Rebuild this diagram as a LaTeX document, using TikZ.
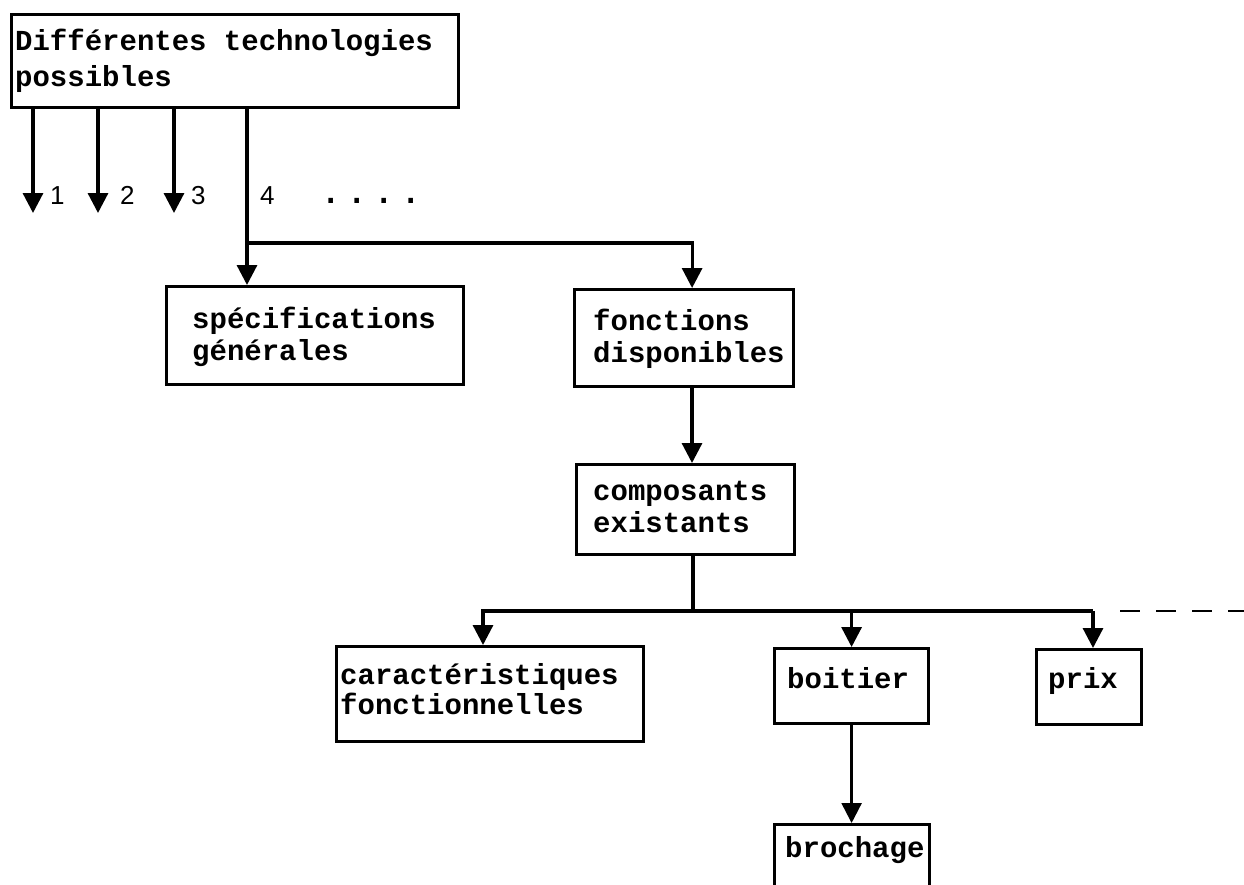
\documentclass[tikz,border=0pt]{standalone}
\usepackage{fontspec}
\setmonofont{Liberation Mono}
\newfontfamily\digitfont{Liberation Sans}
\usetikzlibrary{arrows.meta}
\begin{document}
\begin{tikzpicture}[x=1pt,y=-1pt,
  box/.style 2 args={draw, line width=3.2pt, inner sep=0pt, anchor=north west,
    minimum width=#1, minimum height=#2},
  lbl/.style={anchor=base west, inner sep=0pt, align=left, text width=440pt,
    font=\ttfamily\bfseries\fontsize{29}{#1}\selectfont,
    execute at begin node={\spaceskip=17.4pt\relax}},
  lbl/.default=32,
  num/.style={anchor=base west, inner sep=0pt, font=\digitfont\fontsize{26}{26}\selectfont},
  link/.style={line width=3.2pt},
  arr/.style={link, -{Triangle[length=20pt,width=20pt]}},
]
\useasboundingbox (0,0) rectangle (1244,884);
\clip (0,0) rectangle (1244,884);

% boxes
\node[box={447pt}{93pt}] (techno) at (10,13) {};
\node[lbl=36] (techno-t) at (15,50) {Différentes technologies\\possibles};

\node[box={297pt}{98pt}] (spec) at (165,285) {};
\node[lbl] (spec-t) at (192,328) {spécifications\\générales};

\node[box={219pt}{97pt}] (fonct) at (573,288) {};
\node[lbl] (fonct-t) at (593,330) {fonctions\\disponibles};

\node[box={218pt}{90pt}] (compo) at (575,463) {};
\node[lbl] (compo-t) at (593,500) {composants\\existants};

\node[box={307pt}{95pt}] (carac) at (335,645) {};
\node[lbl=30] (carac-t) at (340,684) {caractéristiques\\fonctionnelles};

\node[box={154pt}{75pt}] (boit) at (773,647) {};
\node[lbl] (boit-t) at (787,688) {boitier};

\node[box={105pt}{75pt}] (prix) at (1035,648) {};
\node[lbl] (prix-t) at (1048,688) {prix};

\node[box={155pt}{100pt}] (broch) at (773,823) {};
\node[lbl] (broch-t) at (785,857) {brochage};

% numbered alternatives below the top box
\coordinate (e1) at (33,213);
\coordinate (e2) at (98,213);
\coordinate (e3) at (174,213);
\draw[arr] (e1 |- techno.south) -- (e1);
\draw[arr] (e2 |- techno.south) -- (e2);
\draw[arr] (e3 |- techno.south) -- (e3);
\node[num] (n1) at (50,204) {1};
\node[num] (n2) at (120,204) {2};
\node[num] (n3) at (191,204) {3};
\node[num] (n4) at (260,204) {4};
\node[anchor=base west, inner sep=0pt,
  font=\digitfont\fontsize{48}{48}\selectfont\frenchspacing] (dots) at (324,203) {. . . .};

% branch 4
\coordinate (j1) at (247,243);
\draw[arr] (j1 |- techno.south) -- (j1 |- spec.north);
\draw[arr] (j1) -| ([xshift=8pt]fonct.north);

% fonctions -> composants
\coordinate (c1) at (692,0);
\draw[arr] (c1 |- fonct.south) -- (c1 |- compo.north);

% composants -> its attributes
\coordinate (j2) at (693,611);
\coordinate (bL) at (483,611);
\coordinate (bR) at (1093,611);
\draw[link] (j2 |- compo.south) -- (j2);
\draw[arr] (bR) -- (bL) -- (bL |- carac.north);
\draw[arr] (boit.north |- j2) -- (boit.north);
\draw[arr] (bR) -- (bR |- prix.north);
\coordinate (d0) at (1120,611);
\coordinate (d1) at (1244,611);
\draw[line width=2.6pt, dash pattern=on 20pt off 16pt] (d0) -- (d1);

% boitier -> brochage
\draw[arr, line width=2.4pt] (boit.south) -- (boit.south |- broch.north);
\end{tikzpicture}
\end{document}
